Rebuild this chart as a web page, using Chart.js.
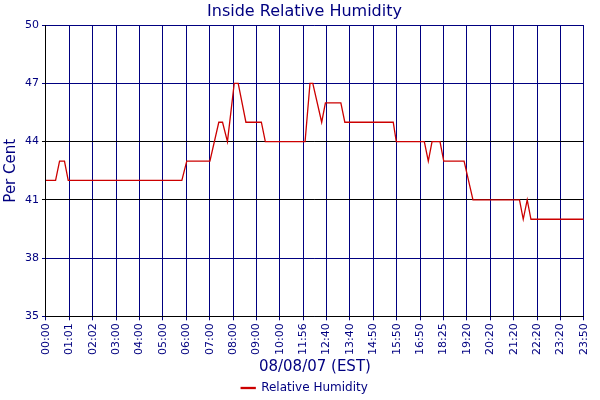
<!DOCTYPE html>
<html>
<head>
<script src="https://cdn.jsdelivr.net/npm/chart.js@4"></script>
<style>body{margin:0;background:#fff}#wrap{width:600px;height:400px}</style>
</head>
<body>
<div id="wrap"><canvas id="rh"></canvas></div>
<script>
const tickLabels = ['00:00','01:01','02:02','03:00','04:00','05:00','06:00','07:00','08:00','09:00','10:00','11:56',
  '12:40','13:40','14:50','15:50','16:50','18:25','19:20','20:20','21:20','22:20','23:20','23:50'];
// sample position (in label steps) and humidity
const sampleIdx = [0,0.41,0.58,0.79,0.95,5.81,6.02,7.01,7.39,7.55,7.76,8.05,8.22,8.55,9.21,9.38,11.08,11.29,11.41,
  11.79,11.95,12.61,12.78,14.85,14.98,16.18,16.35,16.51,16.85,17.01,17.88,18.26,20.25,20.41,20.58,20.74,22.99];
const humidity = [42,42,43,43,42,42,43,43,45,45,44,47,47,45,45,44,44,47,47,
  45,46,46,45,45,44,44,43,44,44,43,43,41,41,40,41,40,40];

const navy = '#000080';
const ctx = document.getElementById('rh').getContext('2d');

new Chart(ctx, {
  type: 'line',
  data: {
    datasets: [{
      label: 'Relative Humidity',
      data: sampleIdx.map((x, i) => ({x: x, y: humidity[i]})),
      borderColor: '#cc0000',
      backgroundColor: '#cc0000',
      borderWidth: 1.3,
      pointRadius: 0,
      tension: 0
    }]
  },
  options: {
    animation: false,
    responsive: true,
    maintainAspectRatio: false,
    layout: {padding: {right: -9, top: 0, bottom: -4}},
    plugins: {
      title: {display: true, text: 'Inside Relative Humidity', color: navy,
        font: {family: 'DejaVu Sans', size: 16, weight: 'normal'}, padding: {top: 2, bottom: 4}},
      legend: {position: 'bottom', labels: {color: navy, boxWidth: 14, boxHeight: 1, padding: 6,
        font: {family: 'DejaVu Sans', size: 12}}}
    },
    scales: {
      x: {
        type: 'linear', min: 0, max: 23,
        border: {color: '#000'},
        grid: {color: navy, drawTicks: true, tickLength: 4},
        ticks: {stepSize: 1, autoSkip: false, maxRotation: 90, minRotation: 90, color: navy,
          font: {family: 'DejaVu Sans', size: 11},
          callback: v => tickLabels[v]},
        afterBuildTicks: axis => { axis.ticks = tickLabels.map((_, i) => ({value: i})); },
        title: {display: true, text: '08/08/07 (EST)', color: navy, padding: 0,
          font: {family: 'DejaVu Sans', size: 15}}
      },
      y: {
        min: 35, max: 50,
        border: {color: '#000'},
        grid: {color: (c) => (c.tick.value === 44 || c.tick.value === 41) ? '#000' : navy, tickLength: 4},
        ticks: {stepSize: 3, color: navy, font: {family: 'DejaVu Sans', size: 11}},
        title: {display: true, text: 'Per Cent', color: navy, padding: 2,
          font: {family: 'DejaVu Sans', size: 15}}
      }
    }
  }
});
</script>
</body>
</html>
